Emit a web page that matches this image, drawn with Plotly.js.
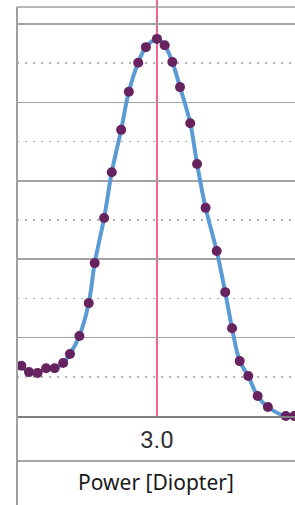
<!DOCTYPE html>
<html>
<head>
<meta charset="utf-8">
<script src="https://cdn.plot.ly/plotly-3.0.1.min.js"></script>
<style>html,body{margin:0;padding:0;background:#fff;}#chart{width:295px;height:505px;}</style>
</head>
<body>
<div id="chart"></div>
<script>
// Power (diopter) readings
const power = [1.41, 1.50, 1.60, 1.70, 1.80, 1.90, 1.98, 2.09, 2.20, 2.27, 2.38, 2.47, 2.58, 2.67, 2.78, 2.87, 3.00,
               3.09, 3.18, 3.27, 3.39, 3.47, 3.57, 3.70, 3.80, 3.88, 3.97, 4.07, 4.18, 4.30, 4.51, 4.61];
// Relative response
const response = [12.8, 11.2, 11.0, 12.2, 12.2, 13.5, 15.8, 20.4, 28.8, 39.0, 50.5, 62.2, 73.0, 82.7, 90.1, 94.1, 96.2,
                  94.6, 90.3, 83.9, 74.7, 64.3, 53.1, 42.1, 31.6, 22.4, 14.0, 10.2, 5.1, 2.3, 0.0, 0.0];
const markerPower = 3.0;
const tickValues = [3.0];
const tickLabels = ['3.0'];
const xTitle = 'Power [Diopter]';

const H = 505, plotBottom = 416;
const plotH = plotBottom;
const paperY = py => (plotBottom - py) / plotH;

const traces = [
  {
    x: power, y: response, type: 'scatter', mode: 'lines',
    line: {color: '#5b9bd5', width: 4, shape: 'spline', smoothing: 1},
    hoverinfo: 'skip', cliponaxis: true
  },
  {
    x: power, y: response, type: 'scatter', mode: 'markers',
    marker: {color: '#66235f', size: 10},
    cliponaxis: false
  }
];

const layout = {
  width: 295, height: 505,
  margin: {l: 17, r: 0, t: 0, b: H - plotBottom},
  paper_bgcolor: '#ffffff', plot_bgcolor: '#ffffff',
  showlegend: false,
  xaxis: {
    range: [1.359, 4.618],
    tickvals: tickValues, ticktext: tickLabels,
    ticks: '', showgrid: false, zeroline: false,
    showline: true, linecolor: '#7f7f7f', linewidth: 2,
    tickfont: {family: 'Roboto, sans-serif', size: 24, color: '#333333'},
    ticklabelstandoff: 1,
    title: {text: xTitle, font: {family: 'Noto Sans, sans-serif', size: 21, color: '#1a1a1a'}, standoff: 23}
  },
  yaxis: {
    range: [0, 416 / 3.92],
    dtick: 20, tick0: 0,
    showticklabels: false, ticks: '',
    showgrid: true, gridcolor: '#a3a3a3', gridwidth: 1.5,
    zeroline: false, showline: false,
    minor: {dtick: 10, tick0: 0, showgrid: true, gridcolor: '#b0b0b0', gridwidth: 1.5, griddash: '2px,6px'}
  },
  shapes: [
    {type: 'line', xref: 'paper', yref: 'paper', x0: 0, x1: 0, y0: paperY(H), y1: paperY(7),
     line: {color: '#a0a0a0', width: 2}},
    {type: 'line', xref: 'paper', yref: 'paper', x0: 0, x1: 1, y0: paperY(7), y1: paperY(7),
     line: {color: '#a0a0a0', width: 1.5}},
    {type: 'line', xref: 'paper', yref: 'paper', x0: 0, x1: 1, y0: paperY(461), y1: paperY(461),
     line: {color: '#8a8a8a', width: 1.5}},
    {type: 'line', xref: 'x', yref: 'paper', x0: markerPower, x1: markerPower, y0: 0, y1: 1,
     line: {color: '#e8336b', width: 1.5}, layer: 'below'}
  ]
};

Plotly.newPlot('chart', traces, layout, {displayModeBar: false, staticPlot: true});
</script>
</body>
</html>
